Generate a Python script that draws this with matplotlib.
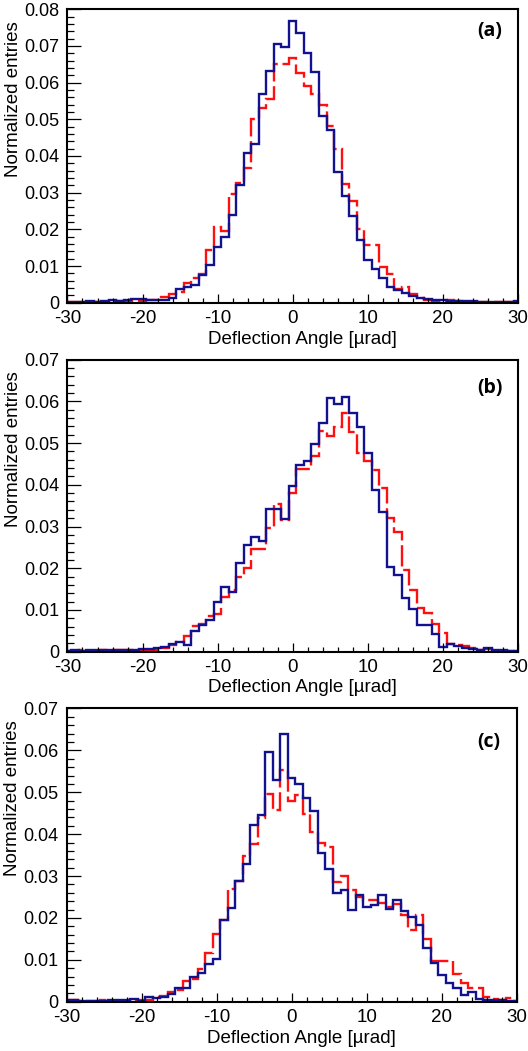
import numpy as np
import matplotlib
matplotlib.use("Agg")
import matplotlib.pyplot as plt
from matplotlib.ticker import MultipleLocator, FuncFormatter

plt.rcParams['font.family'] = ['Liberation Sans', 'DejaVu Sans']
plt.rcParams['axes.unicode_minus'] = False

# bins 1 urad wide, centred on the integers -30..30
bin_edges = np.arange(-30.5, 31.0, 1.0)

# panel (a)
a_red = [0.0002, 0.0002, 0.0002, 0.0003, 0.0002, 0.0003, 0.0005, 0.0004, 0.0003, 0.0004,
         0.0005, 0.0006, 0.0007, 0.0016, 0.0024, 0.0030, 0.0055, 0.0067, 0.0078, 0.0144,
         0.0207, 0.0196, 0.0296, 0.0325, 0.0367, 0.0500, 0.0531, 0.0556, 0.0650, 0.0650,
         0.0668,
         0.0627, 0.0592, 0.0570, 0.0540, 0.0483, 0.0418, 0.0324, 0.0278, 0.0202, 0.0156,
         0.0158, 0.0096, 0.0078, 0.0036, 0.0044, 0.0024, 0.0012, 0.0007, 0.0005, 0.0004,
         0.0006, 0.0005, 0.0003, 0.0003, 0.0002, 0.0002, 0.0002, 0.0001, 0.0001, 0.0001]
a_blue = [0.0002, 0.0002, 0.0003, 0.0004, 0.0003, 0.0005, 0.0006, 0.0005, 0.0006, 0.0009,
          0.0010, 0.0008, 0.0006, 0.0007, 0.0014, 0.0037, 0.0042, 0.0048, 0.0075, 0.0103,
          0.0151, 0.0179, 0.0238, 0.0322, 0.0407, 0.0433, 0.0570, 0.0632, 0.0705, 0.0698,
          0.0768,
          0.0736, 0.0680, 0.0630, 0.0510, 0.0470, 0.0356, 0.0290, 0.0237, 0.0171, 0.0117,
          0.0091, 0.0067, 0.0044, 0.0035, 0.0026, 0.0018, 0.0014, 0.0010, 0.0008, 0.0006,
          0.0005, 0.0004, 0.0004, 0.0004, 0.0003, 0.0003, 0.0003, 0.0003, 0.0002, 0.0005]

# panel (b)
b_red = [0.0002, 0.0002, 0.0003, 0.0002, 0.0002, 0.0003, 0.0004, 0.0003, 0.0003, 0.0004,
         0.0005, 0.0005, 0.0004, 0.0008, 0.0017, 0.0024, 0.0037, 0.0062, 0.0066, 0.0086,
         0.0090, 0.0132, 0.0148, 0.0178, 0.0201, 0.0246, 0.0246, 0.0297, 0.0353, 0.0316,
         0.0381,
         0.0438, 0.0437, 0.0470, 0.0530, 0.0516, 0.0538, 0.0572, 0.0526, 0.0476, 0.0458,
         0.0436, 0.0392, 0.0320, 0.0286, 0.0196, 0.0148, 0.0104, 0.0092, 0.0066, 0.0044,
         0.0018, 0.0016, 0.0014, 0.0010, 0.0004, 0.0006, 0.0002, 0.0002, 0.0002, 0.0001]
b_blue = [0.0002, 0.0003, 0.0002, 0.0003, 0.0003, 0.0003, 0.0005, 0.0004, 0.0004, 0.0005,
          0.0006, 0.0006, 0.0008, 0.0012, 0.0019, 0.0023, 0.0015, 0.0050, 0.0063, 0.0076,
          0.0118, 0.0154, 0.0144, 0.0213, 0.0255, 0.0276, 0.0265, 0.0342, 0.0342, 0.0318,
          0.0396,
          0.0447, 0.0456, 0.0498, 0.0548, 0.0607, 0.0594, 0.0610, 0.0571, 0.0539, 0.0476,
          0.0388, 0.0334, 0.0204, 0.0184, 0.0128, 0.0103, 0.0064, 0.0064, 0.0042, 0.0012,
          0.0018, 0.0014, 0.0010, 0.0006, 0.0004, 0.0008, 0.0003, 0.0003, 0.0002, 0.0002]

# panel (c)
c_red = [0.0002, 0.0003, 0.0002, 0.0002, 0.0002, 0.0003, 0.0002, 0.0002, 0.0002, 0.0003,
         0.0004, 0.0005, 0.0012, 0.0014, 0.0024, 0.0028, 0.0050, 0.0054, 0.0078, 0.0116,
         0.0161, 0.0194, 0.0269, 0.0289, 0.0349, 0.0376, 0.0438, 0.0497, 0.0457, 0.0554,
         0.0480,
         0.0494, 0.0447, 0.0405, 0.0379, 0.0369, 0.0285, 0.0299, 0.0267, 0.0249, 0.0242,
         0.0243, 0.0235, 0.0227, 0.0233, 0.0207, 0.0170, 0.0207, 0.0149, 0.0096, 0.0096,
         0.0096, 0.0066, 0.0044, 0.0032, 0.0032, 0.0012, 0.0006, 0.0004, 0.0008, 0.0002]
c_blue = [0.0003, 0.0003, 0.0002, 0.0002, 0.0002, 0.0002, 0.0005, 0.0004, 0.0003, 0.0006,
          0.0001, 0.0012, 0.0008, 0.0012, 0.0018, 0.0032, 0.0032, 0.0058, 0.0069, 0.0090,
          0.0101, 0.0195, 0.0223, 0.0287, 0.0329, 0.0423, 0.0445, 0.0597, 0.0530, 0.0638,
          0.0534,
          0.0520, 0.0487, 0.0455, 0.0354, 0.0317, 0.0259, 0.0267, 0.0218, 0.0254, 0.0227,
          0.0231, 0.0254, 0.0222, 0.0242, 0.0217, 0.0203, 0.0183, 0.0128, 0.0092, 0.0064,
          0.0044, 0.0032, 0.0016, 0.0022, 0.0006, 0.0004, 0.0003, 0.0004, 0.0002, 0.0001]

panels = [
    (a_red, a_blue, 0.08, "(a)", [0.1278, 0.7120, 0.8532, 0.2792], 0.926),
    (b_red, b_blue, 0.07, "(b)", [0.1278, 0.3799, 0.8532, 0.2780], 0.904),
    (c_red, c_blue, 0.07, "(c)", [0.1260, 0.0469, 0.8530, 0.2790], 0.884),
]

fig = plt.figure(figsize=(5.28, 10.51), dpi=100)

for red, blue, ymax, tag, rect, tag_y in panels:
    ax = fig.add_axes(rect)
    ax.stairs(red, bin_edges, color='#ff1010', lw=1.7, linestyle=(0, (9, 2)))
    ax.stairs(blue, bin_edges, color='#12128f', lw=1.7)
    ax.set_xlim(-30, 30)
    ax.set_ylim(0, ymax)

    ax.xaxis.set_major_locator(MultipleLocator(10))
    ax.xaxis.set_minor_locator(MultipleLocator(2))
    ax.yaxis.set_major_locator(MultipleLocator(0.01))
    ax.yaxis.set_minor_locator(MultipleLocator(0.002))
    ax.yaxis.set_major_formatter(FuncFormatter(lambda v, p: f"{v:g}"))

    ax.tick_params(axis='x', which='major', direction='in', length=6.5, width=0.9,
                   labelsize=13.5, pad=5.5, top=False)
    ax.tick_params(axis='x', which='minor', direction='in', length=3.6, width=0.9, top=False)
    ax.tick_params(axis='y', which='major', direction='in', length=10, width=0.9,
                   labelsize=13, pad=6, right=False)
    ax.tick_params(axis='y', which='minor', direction='in', length=5, width=0.9, right=False)
    for s in ax.spines.values():
        s.set_linewidth(1.5)

    ax.set_xlabel("Deflection Angle [µrad]", fontsize=13.5, labelpad=1)
    ax.xaxis.set_label_coords(0.522, -0.095)
    ax.set_ylabel("Normalized entries", fontsize=13.5, loc='top')
    ax.yaxis.set_label_coords(-0.102, 0.96)

    ax.text(0.938, tag_y, tag, transform=ax.transAxes, ha='center', va='center',
            fontsize=14, fontweight='bold', family=['Open Sans', 'DejaVu Sans'])

fig.savefig("out.png", dpi=100)
